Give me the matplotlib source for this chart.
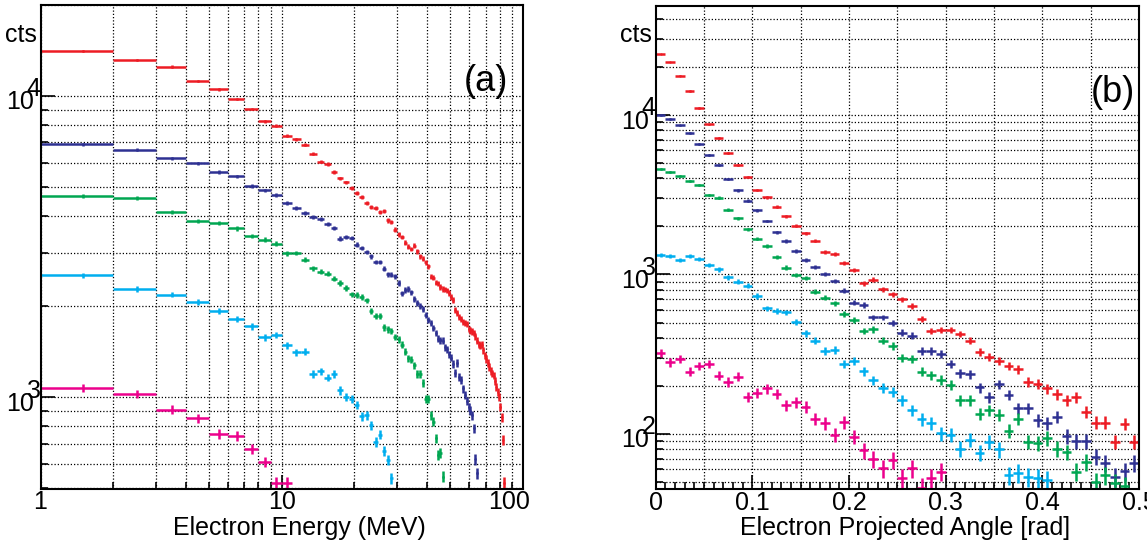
import numpy as np
import matplotlib
matplotlib.use("Agg")
import matplotlib.pyplot as plt
from matplotlib.transforms import offset_copy
from matplotlib.ticker import MultipleLocator, NullFormatter, FuncFormatter

plt.rcParams['font.family'] = ['Liberation Sans', 'DejaVu Sans']

# ---------------- data ----------------
# (a) Electron energy spectra, 1 MeV bins; first bin = 1-2 MeV
a_red = [14100, 13150, 12500, 11200, 10500, 9750, 9030, 8220, 7950, 7370,
         7180, 6870, 6430, 6050, 5940, 5590, 5320, 5160, 4940, 4770,
         4630, 4420, 4270, 4230, 4120, 4150, 3860, 3810, 3600, 3470,
         3400, 3260, 3160, 3100, 3180, 3050, 2930, 2880, 2800, 2720,
         2510, 2490, 2400, 2390, 2320, 2290, 2280, 2260, 2220, 2150,
         2100, 1950, 1900, 1846, 1822, 1780, 1763, 1749, 1683, 1665,
         1653, 1633, 1591, 1540, 1493, 1482, 1493, 1430, 1380, 1340,
         1300, 1260, 1220, 1200, 1180, 1130, 1080, 1040, 1000, 930,
         860, 720, 520]
a_blue = [6910, 6630, 6200, 5970, 5580, 5400, 5030, 4850, 4690, 4410,
          4250, 4090, 3960, 3890, 3760, 3640, 3360, 3400, 3370, 3210,
          3130, 3030, 2930, 2810, 2810, 2665, 2560, 2550, 2520, 2394,
          2212, 2270, 2287, 2229, 2113, 2049, 2007, 1962, 1878, 1800,
          1767, 1696, 1636, 1564, 1545, 1540, 1464, 1440, 1391, 1353,
          1290, 1205, 1300, 1168, 1142, 1069, 1018, 972, 930, 903,
          870, 788, 623, 559]
a_green = [4650, 4590, 4120, 3840, 3790, 3630, 3430, 3330, 3230, 3000,
           3010, 2862, 2678, 2605, 2571, 2474, 2394, 2304, 2194, 2184,
           2153, 2094, 1927, 1860, 1860, 1706, 1679, 1656, 1587, 1557,
           1493, 1418, 1348, 1331, 1276, 1193, 1194, 1116, 985, 985,
           873, 829, 730, 643, 653, 545]
a_cyan = [2538, 2287, 2189, 2070, 1937, 1822, 1717, 1579, 1611, 1485,
          1409, 1415, 1193, 1219, 1162, 1193, 1053, 1002, 989, 944,
          864, 870, 806, 713, 752, 663, 619, 538]
a_magenta = [1072, 1026, 909, 853, 756, 745, 673, 611, 520, 520]

# (b) Electron projected angle, 0.01 rad bins starting at 0
b_red = [24130, 21490, 17640, 14145, 11065, 8745, 7143, 5752, 4859, 4087,
         3387, 3048, 2661, 2317, 2023, 1813, 1629, 1390, 1338, 1176,
         1067, 881, 929, 808, 751, 699, 635, 526, 444, 449,
         449, 424, 385, 328, 305, 287, 267, 254, 213, 206,
         193, 177, 163, 170, 138, 118, 118, 89.5, 116, 89.5]
b_blue = [10000, 9439, 8617, 7713, 6610, 5589, 4859, 3954, 3372, 2902,
          2526, 2165, 1839, 1622, 1410, 1233, 1110, 1007, 910, 791,
          666, 644, 538, 538, 499, 432, 413, 333, 333, 317,
          274, 240, 238, 196, 170, 205, 176, 145, 145, 122,
          117, 128, 97, 90, 90, 72, 65.5, 54, 58.6, 66]
b_green = [4585, 4373, 4146, 3857, 3625, 3151, 3030, 2549, 2251, 1920,
           1677, 1509, 1282, 1106, 993, 952, 780, 715, 660, 565,
           518, 444, 453, 385, 356, 298, 294, 246, 234, 218,
           203, 163, 163, 133.5, 141, 132, 105, 125, 89.5, 88,
           94, 81, 77, 58, 67, 50, 55, 49, 47]
b_cyan = [1325, 1312, 1238, 1306, 1245, 1155, 1075, 958, 901, 851,
          733, 614, 593, 579, 502, 428, 385, 331, 336, 275,
          288, 248, 217, 195, 183, 163, 141, 124, 117, 101,
          98.6, 81, 92, 76, 89.5, 80, 55, 57, 53.5, 53, 51.5]
b_magenta = [323, 281, 295, 246, 267, 275, 232, 213, 229, 171,
             182, 193, 178, 152, 159, 148, 125, 117, 98.6, 119,
             96, 79, 70, 61, 69, 53, 61, 46, 53, 58]

series_names = ['red', 'blue', 'green', 'cyan', 'magenta']
colors = {'red': '#ED1C24', 'blue': '#2E3192', 'green': '#00A651',
          'cyan': '#00AEEF', 'magenta': '#EC008C'}
a_data = dict(zip(series_names, [a_red, a_blue, a_green, a_cyan, a_magenta]))
b_data = dict(zip(series_names, [b_red, b_blue, b_green, b_cyan, b_magenta]))

a_bin_width = 1.0      # MeV
a_first_edge = 1.0
b_bin_width = 0.01     # rad

a_xticks = [1, 10, 100]
a_decades = [3, 4]
b_decades = [2, 3, 4]

# ---------------- figure ----------------
W, H = 1147, 548
fig = plt.figure(figsize=(W / 100, H / 100), dpi=100)


def px_axes(l, t, r, b):
    return fig.add_axes([l / W, 1 - b / H, (r - l) / W, (b - t) / H])


axa = px_axes(40.5, 5, 523, 489.3)
axb = px_axes(655.7, 5.7, 1139, 489.3)

FS = 18
grid_kw = dict(color='black', linestyle=(0, (1, 1.6)), linewidth=0.9)

for ax in (axa, axb):
    ax.set_yscale('log')
    ax.set_axisbelow(True)
    for s in ax.spines.values():
        s.set_linewidth(1.5)
        s.set_zorder(5)
    ax.tick_params(which='both', direction='in', top=False, right=False,
                   labelleft=False, width=1.2)
    ax.tick_params(which='major', length=10)
    ax.tick_params(which='minor', length=5)
    ax.yaxis.set_minor_formatter(NullFormatter())


def draw_hist(ax, x, y, xerr, color):
    y = np.asarray(y, dtype=float)
    ax.errorbar(x, y, xerr=xerr, yerr=np.sqrt(y), fmt='none', ecolor=color,
                elinewidth=1.8, capsize=0, zorder=3)
    ax.plot(x, y, ls='none', marker='o', ms=1.6, color=color, mec='none',
            alpha=0.9, zorder=4)


# ---- panel (a)
axa.set_xscale('log')
axa.set_xlim(1, 100)
axa.set_ylim(495, 20000)
axa.xaxis.set_minor_formatter(NullFormatter())
axa.tick_params(labelbottom=False)
axa.grid(True, which='both', axis='both', **grid_kw)
for name in series_names:
    y = a_data[name]
    x = a_first_edge + a_bin_width * (np.arange(len(y)) + 0.5)
    draw_hist(axa, x, y, a_bin_width / 2, colors[name])

# ---- panel (b)
axb.set_xlim(0, 0.5)
axb.set_ylim(45, 48450)
axb.xaxis.set_major_locator(MultipleLocator(0.1))
axb.xaxis.set_minor_locator(MultipleLocator(0.01))
axb.xaxis.set_major_formatter(FuncFormatter(lambda v, p: '0' if abs(v) < 1e-9 else f'{v:.1f}'))
axb.tick_params(axis='x', which='major', labelsize=FS, pad=1)
axb.grid(True, which='both', axis='y', **grid_kw)
for v in np.arange(0.05, 0.5, 0.05):
    axb.axvline(v, zorder=0.5, **grid_kw)
for name in series_names:
    y = b_data[name]
    x = b_bin_width * (np.arange(len(y)) + 0.5)
    draw_hist(axb, x, y, b_bin_width / 2, colors[name])


# ---- decade labels in ROOT style: full-size exponent above-right of "10",
# drawn as one two-line text object
def dec_labels(ax, exps):
    tr = ax.get_yaxis_transform()
    for e in exps:
        t = offset_copy(tr, fig=fig, x=-34.5, y=-18.5, units='dots')
        ax.text(0, 10.0 ** e, '   ' + str(e) + '\n10', transform=t,
                ha='left', va='bottom', multialignment='left',
                linespacing=0.43, fontsize=FS, clip_on=False)


dec_labels(axa, a_decades)
dec_labels(axb, b_decades)


def ftext(x, y, s, **kw):
    fig.text(x / W, 1 - y / H, s, fontsize=kw.pop('fontsize', FS), va='baseline', **kw)


ftext(5, 42, 'cts')
ftext(620, 42, 'cts')
# x tick labels of (a)
for v, xp in zip(a_xticks, [40, 282, 509]):
    ftext(xp, 509, str(v), ha='center')
# axis titles
ftext(173, 535, 'Electron Energy (MeV)')
ftext(740, 535, 'Electron Projected Angle [rad]')
# panel tags
ftext(464, 91, '(a)', fontsize=26)
ftext(1091, 102, '(b)', fontsize=26)

fig.savefig('out.png', dpi=100)
